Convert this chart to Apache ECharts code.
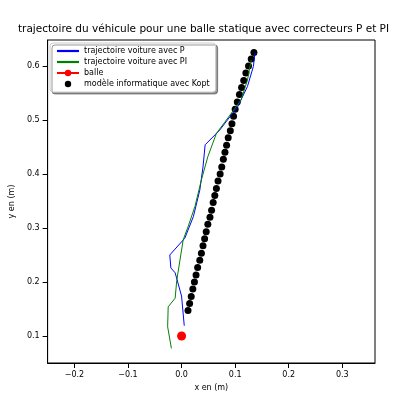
<!DOCTYPE html><html><head><meta charset="utf-8"><script src="https://cdn.jsdelivr.net/npm/echarts@6/dist/echarts.min.js"></script></head><body style="margin:0"><div id="c" style="width:407px;height:401px"></div><script>
const pX=[0.005,0.0,-0.012,-0.02,-0.022,0.006,0.022,0.034,0.04,0.044,0.071,0.105,0.123,0.134,0.137];
const pY=[0.119,0.174,0.217,0.226,0.25,0.281,0.321,0.37,0.413,0.454,0.481,0.525,0.562,0.599,0.624];
const piX=[-0.019,-0.026,-0.025,-0.012,-0.009,0.003,0.012,0.025,0.037,0.049,0.065,0.08,0.111,0.123,0.13];
const piY=[0.077,0.117,0.154,0.17,0.203,0.278,0.302,0.34,0.389,0.432,0.475,0.495,0.537,0.574,0.611];
const ballX=[0.0], ballY=[0.1];
const mX=[0.012,0.015,0.018,0.021,0.024,0.027,0.030,0.034,0.037,0.040,0.043,0.046,0.049,0.053,0.056,0.059,0.062,0.065,0.068,0.072,0.075,0.078,0.081,0.084,0.087,0.091,0.094,0.097,0.100,0.104,0.108,0.112,0.116,0.120,0.125,0.130,0.135];
const mY=[0.147,0.160,0.173,0.187,0.200,0.213,0.227,0.240,0.253,0.267,0.280,0.293,0.307,0.320,0.333,0.347,0.360,0.373,0.387,0.400,0.413,0.427,0.440,0.453,0.467,0.480,0.493,0.507,0.520,0.533,0.547,0.560,0.573,0.587,0.600,0.613,0.625];
const xTicks=[-0.2,-0.1,0,0.1,0.2,0.3];
const yTicks=[0.1,0.2,0.3,0.4,0.5,0.6];
const z=(a,b)=>a.map((v,i)=>[v,b[i]]);
const f='DejaVu Sans';
const lab=(fmt,cv)=>({color:'#000',fontSize:8,fontFamily:f,customValues:cv,formatter:fmt});
const base={axisLine:{onZero:false,lineStyle:{color:'#000'}},splitLine:{show:false},nameLocation:'middle',nameTextStyle:{color:'#000',fontSize:8,fontFamily:f}};
echarts.init(document.getElementById('c')).setOption({
animation:false,
title:{text:'trajectoire du véhicule pour une balle statique avec correcteurs P et PI',left:'center',top:19,textStyle:{fontSize:10.5,fontWeight:'normal',fontFamily:f,color:'#000'}},
grid:{left:45,right:32,top:40,bottom:38,show:true,borderColor:'#000'},
xAxis:Object.assign({type:'value',min:-0.25,max:0.361,name:'x en (m)',nameGap:16,
 axisTick:{customValues:xTicks,lineStyle:{color:'#000'}},
 axisLabel:lab(v=>(v<-1e-9?'−':'')+Math.abs(v).toFixed(1),xTicks)},base),
yAxis:Object.assign({type:'value',min:0.05,max:0.648,name:'y en (m)',nameGap:26,
 axisTick:{customValues:yTicks,lineStyle:{color:'#000'}},
 axisLabel:lab(v=>v.toFixed(1),yTicks)},base),
legend:{left:50,top:43,orient:'vertical',itemGap:3,itemWidth:22,itemHeight:8,padding:[4,6],backgroundColor:'#fff',borderColor:'#ccc',borderWidth:1,borderRadius:3,shadowColor:'rgba(0,0,0,0.4)',shadowOffsetX:2,shadowOffsetY:2,shadowBlur:0,textStyle:{fontSize:8,fontFamily:f,color:'#000'},
data:[{name:'trajectoire voiture avec P',icon:'path://M0,0h10v1h-10z'},{name:'trajectoire voiture avec PI',icon:'path://M0,0h10v1h-10z'},{name:'balle'},{name:'modèle informatique avec Kopt'}]},
series:[
{name:'trajectoire voiture avec P',type:'line',data:z(pX,pY),symbol:'none',lineStyle:{color:'#0000ff',width:1},itemStyle:{color:'#0000ff'}},
{name:'trajectoire voiture avec PI',type:'line',data:z(piX,piY),symbol:'none',lineStyle:{color:'#008000',width:1},itemStyle:{color:'#008000'}},
{name:'balle',type:'line',data:z(ballX,ballY),symbol:'circle',symbolSize:9,lineStyle:{color:'#ff0000',width:1},itemStyle:{color:'#ff0000'}},
{name:'modèle informatique avec Kopt',type:'line',data:z(mX,mY),symbol:'circle',symbolSize:7,lineStyle:{color:'#000',width:1,opacity:0},itemStyle:{color:'#000'},z:1}
]});
</script></body></html>
